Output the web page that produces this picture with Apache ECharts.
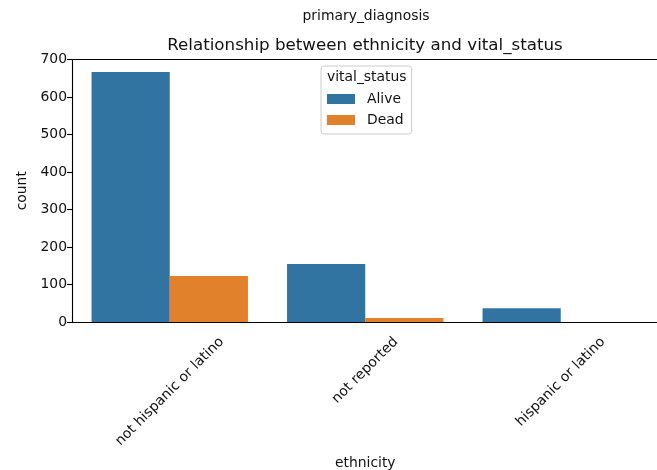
<!DOCTYPE html>
<html>
<head>
	<meta charset="utf-8" />
	<title>ethnicity vs vital_status</title>
	<style>
		* { padding: 0; margin: 0; }
		body { background: #fff; }
	</style>
</head>
<body>
	<div id="main" style="width:657px;height:470px;"></div>
<script src="https://cdn.jsdelivr.net/npm/echarts@6/dist/echarts.min.js"></script>
<script type="text/javascript">
	// data
	var categories = ['not hispanic or latino', 'not reported', 'hispanic or latino'];
	var seriesNames = ['Alive', 'Dead'];
	var aliveCounts = [667, 155, 37];
	var deadCounts = [123, 11, 0];

	var FONT = 'DejaVu Sans';
	var TICK_SIZE = 13.9;
	var TICK_LINE = 16;

	// matplotlib centres rotated tick labels under the tick with their top edge aligned.
	// echarts rotates around the anchor, so push each label along/across its own
	// direction with padding (top + right) sized from its measured length.
	var ctx = document.createElement('canvas').getContext('2d');
	ctx.font = TICK_SIZE + 'px "' + FONT + '"';
	var xLabels = categories.map(function (name) {
		var w = ctx.measureText(name).width;
		var pt = Math.max(0, 0.25 * (w + TICK_LINE) - TICK_LINE / 2);
		var pr = 0.5 * (w + TICK_LINE);
		return {
			value: name,
			textStyle: { padding: [pt, pr, 0, 0], align: 'center', verticalAlign: 'top' }
		};
	});

	var chart = echarts.init(document.getElementById('main'));
	var option = {
		animation: false,
		textStyle: { fontFamily: FONT },
		title: [
			{
				text: 'primary_diagnosis',
				left: 366, top: 9, textAlign: 'center', padding: 0,
				textStyle: { fontSize: 13.9, fontWeight: 'normal', color: '#111', fontFamily: FONT }
			},
			{
				text: 'Relationship between ethnicity and vital_status',
				left: 365, top: 37, textAlign: 'center', padding: 0,
				textStyle: { fontSize: 16.7, fontWeight: 'normal', color: '#111', fontFamily: FONT }
			}
		],
		legend: {
			data: seriesNames,
			orient: 'vertical',
			left: 321, top: 66,
			padding: [26, 8, 7, 6],
			itemGap: 7,
			itemWidth: 28, itemHeight: 10,
			icon: 'rect',
			borderColor: '#cccccc', borderWidth: 1, borderRadius: 3,
			backgroundColor: 'rgba(255,255,255,0.8)',
			textStyle: { fontSize: 13.9, color: '#111', lineHeight: 14, padding: [0, 0, 0, 7], fontFamily: FONT }
		},
		graphic: [{
			type: 'text',
			left: 327, top: 70, z: 100,
			style: { text: 'vital_status', fontSize: 13.9, fill: '#111', fontFamily: FONT }
		}],
		grid: { left: 72, right: -1.5, top: 59.5, bottom: 148, containLabel: false, outerBoundsMode: 'none' },
		xAxis: [
			{
				type: 'category',
				data: xLabels,
				name: 'ethnicity',
				nameLocation: 'middle',
				nameGap: 131,
				nameTextStyle: { fontSize: 13.9, color: '#111', fontFamily: FONT },
				axisLine: { lineStyle: { color: '#000', width: 1.1 } },
				axisTick: { alignWithLabel: true, length: 5, lineStyle: { color: '#000', width: 1.1 } },
				axisLabel: {
					interval: 0, rotate: 45, margin: 12,
					align: 'center', verticalAlign: 'top', lineHeight: TICK_LINE,
					fontSize: TICK_SIZE, color: '#111', fontFamily: FONT
				}
			},
			{
				type: 'category',
				data: categories,
				position: 'top',
				axisLine: { lineStyle: { color: '#000', width: 1.1 } },
				axisTick: { show: false },
				axisLabel: { show: false }
			}
		],
		yAxis: {
			type: 'value',
			min: 0, max: 700, interval: 100,
			name: 'count',
			nameLocation: 'middle',
			nameGap: 37,
			nameTextStyle: { fontSize: 13.9, color: '#111', fontFamily: FONT },
			axisLine: { show: true, lineStyle: { color: '#000', width: 1.1 } },
			axisTick: { show: true, length: 5, lineStyle: { color: '#000', width: 1.1 } },
			axisLabel: { fontSize: TICK_SIZE, color: '#111', margin: 5, fontFamily: FONT },
			splitLine: { show: false }
		},
		series: [
			{
				name: seriesNames[0], type: 'bar', data: aliveCounts,
				barGap: '0%', barCategoryGap: '20%',
				itemStyle: { color: '#3274a1' }
			},
			{
				name: seriesNames[1], type: 'bar', data: deadCounts,
				barGap: '0%', barCategoryGap: '20%',
				itemStyle: { color: '#e1812c' }
			}
		]
	};
	chart.setOption(option);
</script>
</body>
</html>
